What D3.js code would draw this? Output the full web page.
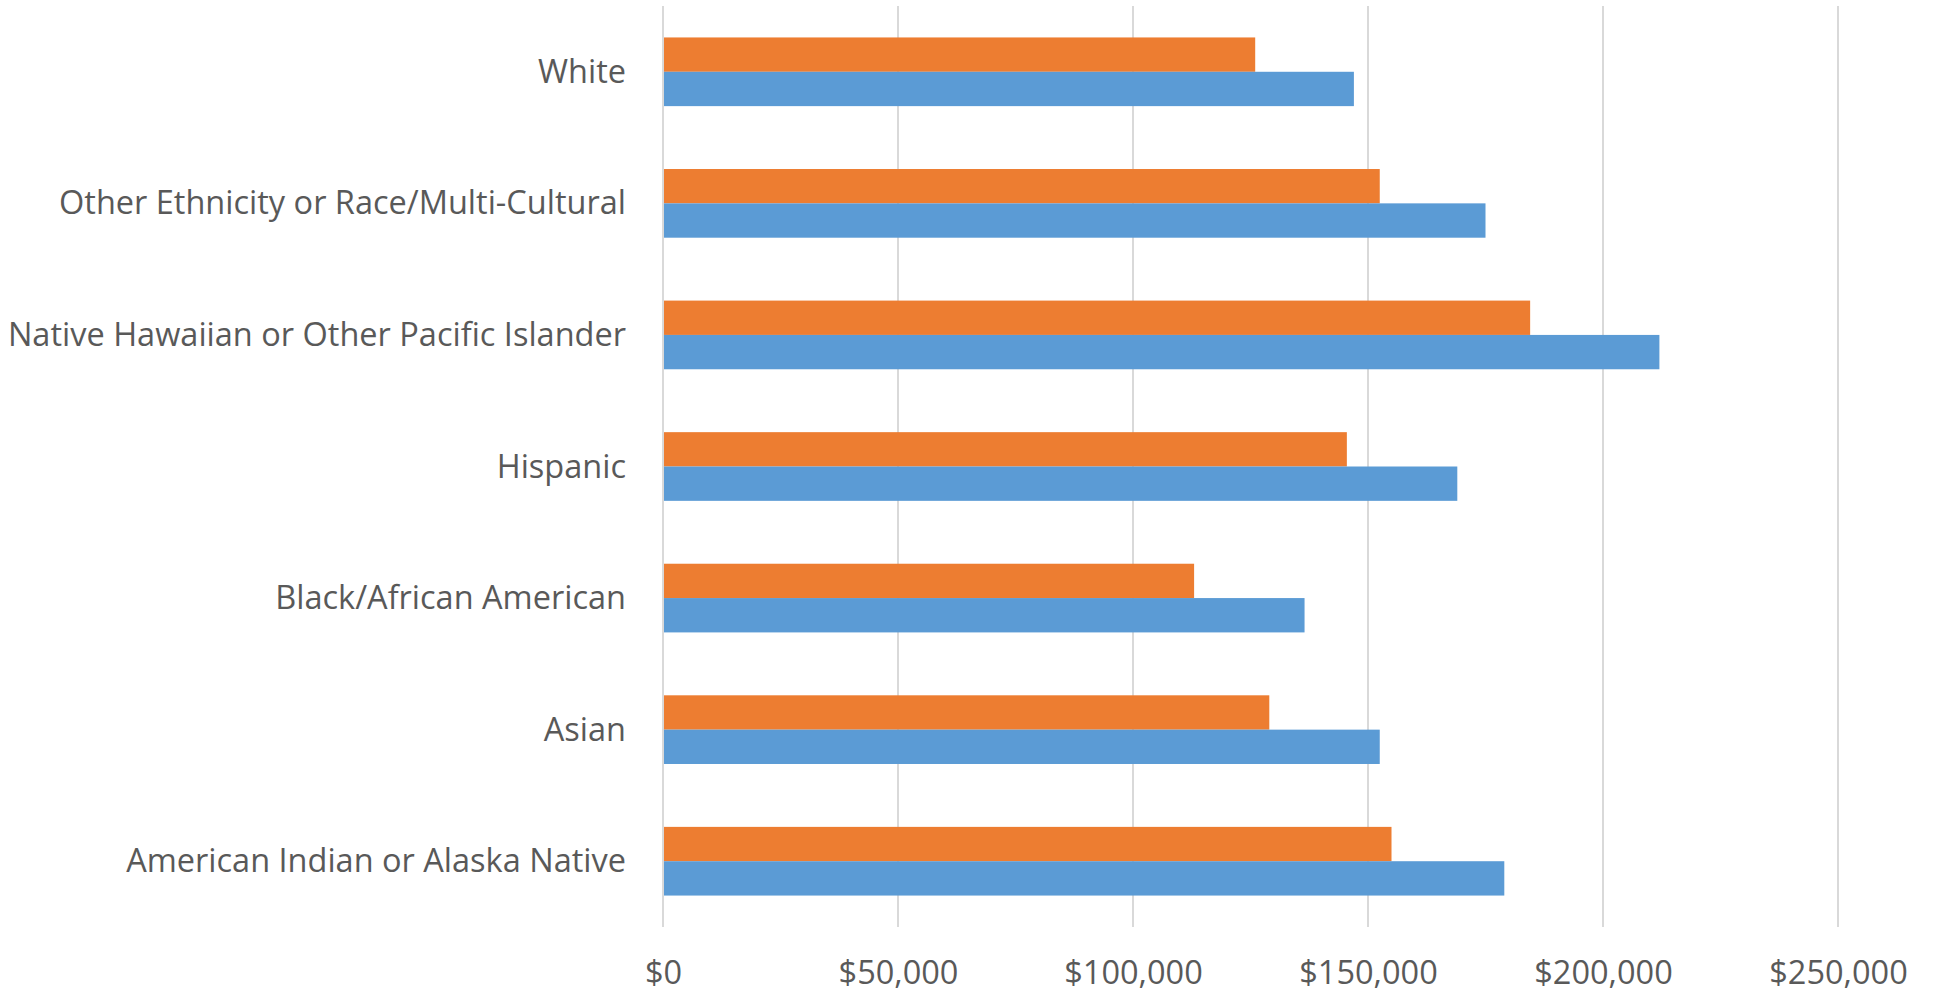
<!DOCTYPE html>
<html>
<head>
<meta charset="utf-8">
<script src="https://cdn.jsdelivr.net/npm/d3@7"></script>
<style>
  body { margin: 0; background: #fff; }
  text { font-family: "Open Sans", Lato, sans-serif; fill: #595959; }
</style>
</head>
<body>
<div class="chart"></div>
<script>
var categories = ["White", "Other Ethnicity or Race/Multi-Cultural", "Native Hawaiian or Other Pacific Islander",
    "Hispanic", "Black/African American", "Asian", "American Indian or Alaska Native"]
var orangeValues = [126000, 152500, 184500, 145500, 113000, 129000, 155000]
var blueValues = [147000, 175000, 212000, 169000, 136500, 152500, 179000]
var xTicks = [0, 50000, 100000, 150000, 200000, 250000]

var regionWidth = 1937
var regionHeight = 996
var margin = { top: 6, left: 663, right: 99, bottom: 69 }
var fontSize = 32.5

var svg = d3.select('.chart').append('svg')
    .attr('width', regionWidth)
    .attr('height', regionHeight)

var scaleX = d3.scaleLinear().domain([0, 250000])
    .range([margin.left, regionWidth - margin.right])
var scaleY = d3.scaleBand().domain(categories)
    .range([margin.top, regionHeight - margin.bottom])
    .paddingInner(0.478).paddingOuter(0.239)
var scaleSeries = d3.scaleBand().domain(['orange', 'blue']).range([0, scaleY.bandwidth()])

var colors = { orange: '#ED7D31', blue: '#5B9BD5' }

// gridlines
svg.append('g').selectAll('line').data(xTicks).enter().append('line')
    .attr('x1', d => scaleX(d)).attr('x2', d => scaleX(d))
    .attr('y1', margin.top).attr('y2', regionHeight - margin.bottom)
    .attr('stroke', '#d9d9d9').attr('stroke-width', 2)

var rows = categories.map((c, i) => ({ cat: c, orange: orangeValues[i], blue: blueValues[i] }))

var groups = svg.append('g').selectAll('g').data(rows).enter().append('g')
    .attr('transform', d => 'translate(0,' + scaleY(d.cat) + ')')

groups.selectAll('rect').data(d => ['orange', 'blue'].map(k => ({ key: k, value: d[k] })))
    .enter().append('rect')
    .attr('x', scaleX(0) + 1)
    .attr('y', d => scaleSeries(d.key))
    .attr('width', d => scaleX(d.value) - scaleX(0) - 1)
    .attr('height', scaleSeries.bandwidth())
    .attr('fill', d => colors[d.key])

// category labels
var yAxis = svg.append('g')
    .attr('transform', 'translate(' + (margin.left - 37) + ',0)')
    .call(d3.axisLeft(scaleY).tickSize(0).tickPadding(0))
yAxis.select('.domain').remove()
yAxis.selectAll('text')
    .style('font-size', fontSize + 'px')
    .attr('dy', null)
    .attr('y', fontSize * 0.34)

// value labels
var xAxis = svg.append('g')
    .attr('transform', 'translate(0,' + (regionHeight - margin.bottom) + ')')
    .call(d3.axisBottom(scaleX).tickValues(xTicks).tickFormat(d3.format('$,')).tickSize(0))
xAxis.select('.domain').remove()
xAxis.selectAll('text')
    .style('font-size', fontSize + 'px')
    .attr('dy', null)
    .attr('y', 57)
</script>
</body>
</html>
